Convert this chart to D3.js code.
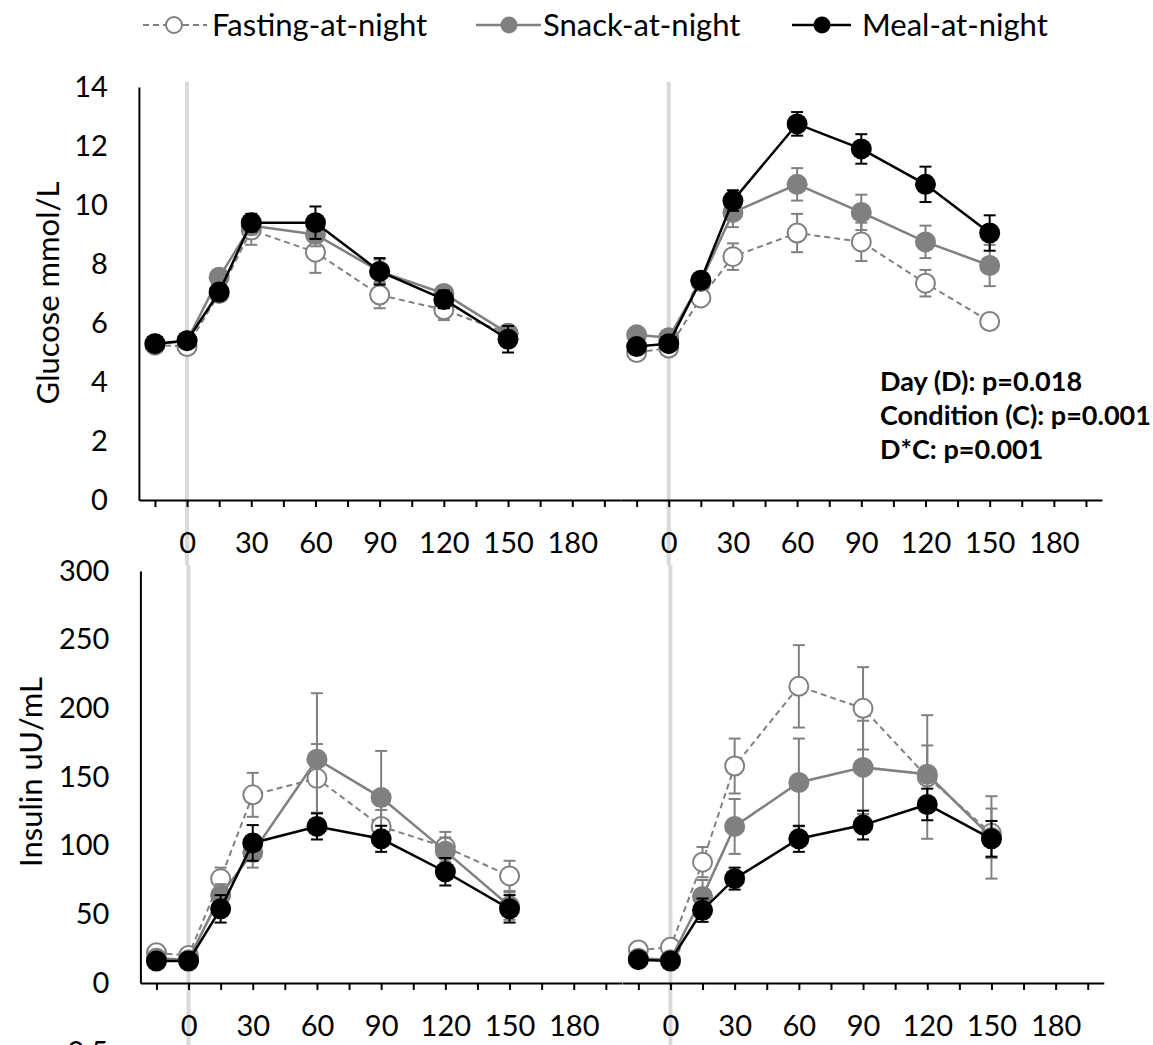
<!DOCTYPE html>
<html>
<head>
<meta charset="utf-8">
<script src="https://cdn.jsdelivr.net/npm/d3@7"></script>
<style>
  html, body { margin: 0; padding: 0; background: #fff; }
  svg { display: block; }
  text { font-family: Lato, "Open Sans", sans-serif; fill: #000; }
</style>
</head>
<body>
<svg id="chart" width="1153" height="1045"></svg>
<script>
// Sampling times (minutes relative to the test meal)
const times = [-15, 0, 15, 30, 60, 90, 120, 150];
const seriesNames = ["Fasting-at-night", "Snack-at-night", "Meal-at-night"];

// Glucose (mmol/L), day 1 and day 2: means and standard errors
const glucoseDay1Fasting = [5.25, 5.2, 7.0, 9.15, 8.4, 6.95, 6.45, 5.65];
const glucoseDay1FastingSE = [0.15, 0.15, 0.25, 0.5, 0.7, 0.45, 0.35, 0.2];
const glucoseDay1Snack = [5.3, 5.4, 7.55, 9.3, 9.0, 7.75, 7.0, 5.65];
const glucoseDay1SnackSE = [0.15, 0.15, 0.25, 0.3, 0.4, 0.4, 0.25, 0.25];
const glucoseDay1Meal = [5.3, 5.4, 7.05, 9.4, 9.4, 7.75, 6.8, 5.45];
const glucoseDay1MealSE = [0.1, 0.1, 0.2, 0.3, 0.55, 0.45, 0.3, 0.45];

const glucoseDay2Fasting = [5.0, 5.15, 6.85, 8.25, 9.05, 8.75, 7.35, 6.05];
const glucoseDay2FastingSE = [0.1, 0.1, 0.2, 0.45, 0.65, 0.65, 0.45, 0.15];
const glucoseDay2Snack = [5.6, 5.5, 7.4, 9.75, 10.7, 9.75, 8.75, 7.95];
const glucoseDay2SnackSE = [0.1, 0.1, 0.2, 0.5, 0.55, 0.6, 0.55, 0.7];
const glucoseDay2Meal = [5.2, 5.3, 7.45, 10.15, 12.75, 11.9, 10.7, 9.05];
const glucoseDay2MealSE = [0.1, 0.1, 0.2, 0.35, 0.4, 0.5, 0.6, 0.6];

// Insulin (uU/mL), day 1 and day 2: means and standard errors
const insulinDay1Fasting = [22, 20, 76, 137, 149, 114, 99, 78];
const insulinDay1FastingSE = [3, 3, 8, 16, 25, 12, 11, 11];
const insulinDay1Snack = [18, 17, 64, 95, 163, 135, 96, 56];
const insulinDay1SnackSE = [3, 3, 8, 11, 48, 34, 10, 10];
const insulinDay1Meal = [16, 16, 54, 102, 114, 105, 81, 54];
const insulinDay1MealSE = [2, 2, 10, 13, 9.5, 9.5, 10, 10];

const insulinDay2Fasting = [24, 26, 88, 158, 216, 200, 150, 109];
const insulinDay2FastingSE = [3, 3, 11, 20, 30, 30, 45, 18];
const insulinDay2Snack = [18, 17, 63, 114, 146, 157, 152, 106];
const insulinDay2SnackSE = [3, 3, 12, 20, 32, 34, 21, 30];
const insulinDay2Meal = [17, 16, 53, 76, 105, 115, 130, 105];
const insulinDay2MealSE = [2, 2, 8.5, 8, 9.5, 10.5, 11.5, 13];

// Axis ticks and labels
const xTicks = [-15, 0, 15, 30, 45, 60, 75, 90, 105, 120, 135, 150, 165, 180, 195];
const xTickLabels = [0, 30, 60, 90, 120, 150, 180];
const glucoseTicks = [0, 2, 4, 6, 8, 10, 12, 14];
const insulinTicks = [0, 50, 100, 150, 200, 250, 300];
const glucoseTitle = "Glucose mmol/L";
const insulinTitle = "Insulin uU/mL";
const statsLines = ["Day (D): p=0.018", "Condition (C): p=0.001", "D*C: p=0.001"];

// ---- styling ----
const styles = [
  { stroke: "#808080", fill: "#fff", dash: "6,4", lw: 2, ew: 2 },
  { stroke: "#808080", fill: "#808080", dash: null, lw: 2.5, ew: 2 },
  { stroke: "#000", fill: "#000", dash: null, lw: 2.5, ew: 2 }
];
const tickFont = 29;

const svg = d3.select("#chart");

const panels = [
  { means: [glucoseDay1Fasting, glucoseDay1Snack, glucoseDay1Meal],
    ses: [glucoseDay1FastingSE, glucoseDay1SnackSE, glucoseDay1MealSE],
    xr: [138.9, 620.4], yr: [500, 87], yDomain: [0, 14], yTicks: glucoseTicks,
    yAxis: true, title: glucoseTitle, titleX: 48, titleY: 293, band: [82, 565] },
  { means: [glucoseDay2Fasting, glucoseDay2Snack, glucoseDay2Meal],
    ses: [glucoseDay2FastingSE, glucoseDay2SnackSE, glucoseDay2MealSE],
    xr: [620.6, 1102], yr: [500, 87], yDomain: [0, 14], yTicks: glucoseTicks,
    yAxis: false, band: [82, 565] },
  { means: [insulinDay1Fasting, insulinDay1Snack, insulinDay1Meal],
    ses: [insulinDay1FastingSE, insulinDay1SnackSE, insulinDay1MealSE],
    xr: [140.4, 621.9], yr: [983, 571], yDomain: [0, 300], yTicks: insulinTicks,
    yAxis: true, title: insulinTitle, titleX: 31, titleY: 772, band: [565, 1045] },
  { means: [insulinDay2Fasting, insulinDay2Snack, insulinDay2Meal],
    ses: [insulinDay2FastingSE, insulinDay2SnackSE, insulinDay2MealSE],
    xr: [622.3, 1103.8], yr: [983, 571], yDomain: [0, 300], yTicks: insulinTicks,
    yAxis: false, band: [565, 1045] }
];

// time-zero reference bands first so that axes sit on top of them
panels.forEach(p => {
  p.x = d3.scaleLinear().domain([-22.5, 202.5]).range(p.xr);
  p.y = d3.scaleLinear().domain(p.yDomain).range(p.yr);
  svg.append("line")
    .attr("x1", p.x(0)).attr("x2", p.x(0))
    .attr("y1", p.band[0]).attr("y2", p.band[1])
    .attr("stroke", "#d9d9d9").attr("stroke-width", 4);
});

panels.forEach(p => {
  const g = svg.append("g");

  // x axis
  const xa = d3.axisBottom(p.x)
    .tickValues(xTicks)
    .tickSize(7).tickSizeOuter(0).tickPadding(25.5)
    .tickFormat(d => xTickLabels.includes(d) ? d : "");
  const gx = g.append("g").attr("transform", `translate(0,${p.yr[0]})`).call(xa);
  gx.select(".domain").attr("stroke", "#000").attr("stroke-width", 2);
  gx.selectAll(".tick line").attr("stroke", "#000").attr("stroke-width", 2);
  gx.selectAll(".tick text").attr("font-size", tickFont).attr("font-family", "Lato");

  // y axis (left panels only)
  if (p.yAxis) {
    const ya = d3.axisLeft(p.y).tickValues(p.yTicks).tickSize(0).tickPadding(31);
    const gy = g.append("g").attr("transform", `translate(${p.xr[0]},0)`).call(ya);
    gy.select(".domain").attr("stroke", "#000").attr("stroke-width", 2);
    gy.selectAll(".tick text").attr("font-size", tickFont).attr("font-family", "Lato");
    g.append("text")
      .attr("transform", `translate(${p.titleX},${p.titleY}) rotate(-90)`)
      .attr("text-anchor", "middle").attr("dy", "0.35em")
      .attr("font-size", 31)
      .text(p.title);
  }

  // series: error bars, line, markers
  p.means.forEach((vals, si) => {
    const st = styles[si];
    const se = p.ses[si];
    const pts = times.map((t, i) => ({ t, v: vals[i], e: se[i] }));
    const sg = g.append("g");

    const eb = sg.selectAll("g.err").data(pts).join("g")
      .attr("stroke", st.stroke).attr("stroke-width", st.ew);
    eb.append("line")
      .attr("x1", d => p.x(d.t)).attr("x2", d => p.x(d.t))
      .attr("y1", d => p.y(d.v - d.e)).attr("y2", d => p.y(d.v + d.e));
    eb.append("line")
      .attr("x1", d => p.x(d.t) - 6).attr("x2", d => p.x(d.t) + 6)
      .attr("y1", d => p.y(d.v + d.e)).attr("y2", d => p.y(d.v + d.e));
    eb.append("line")
      .attr("x1", d => p.x(d.t) - 6).attr("x2", d => p.x(d.t) + 6)
      .attr("y1", d => p.y(d.v - d.e)).attr("y2", d => p.y(d.v - d.e));

    sg.append("path")
      .datum(pts)
      .attr("fill", "none")
      .attr("stroke", st.stroke)
      .attr("stroke-width", st.lw)
      .attr("stroke-dasharray", st.dash)
      .attr("d", d3.line().x(d => p.x(d.t)).y(d => p.y(d.v)));

    sg.selectAll("circle").data(pts).join("circle")
      .attr("cx", d => p.x(d.t)).attr("cy", d => p.y(d.v))
      .attr("r", si === 0 ? 9.5 : 10.5)
      .attr("fill", st.fill)
      .attr("stroke", st.stroke)
      .attr("stroke-width", si === 0 ? 2 : 0);
  });
});

// statistics note on the glucose day-2 panel
svg.append("g").selectAll("text").data(statsLines).join("text")
  .attr("x", 880).attr("y", (d, i) => 382 + i * 34)
  .attr("dy", "0.35em")
  .attr("font-size", 27).attr("font-weight", "bold")
  .text(d => d);

// legend
const legendItems = [
  { x1: 143, x2: 207, cx: 174, tx: 212 },
  { x1: 476, x2: 541, cx: 509, tx: 543 },
  { x1: 792, x2: 851, cx: 822, tx: 862 }
];
const lg = svg.append("g");
seriesNames.forEach((name, i) => {
  const st = styles[i], it = legendItems[i];
  lg.append("line")
    .attr("x1", it.x1).attr("x2", it.x2).attr("y1", 25).attr("y2", 25)
    .attr("stroke", st.stroke).attr("stroke-width", st.lw)
    .attr("stroke-dasharray", st.dash);
  lg.append("circle")
    .attr("cx", it.cx).attr("cy", 25).attr("r", i === 0 ? 8 : 8.5)
    .attr("fill", st.fill).attr("stroke", st.stroke)
    .attr("stroke-width", i === 0 ? 2 : 0);
  lg.append("text")
    .attr("x", it.tx).attr("y", 25).attr("dy", "0.35em")
    .attr("font-size", 31)
    .text(name);
});

// tick label of the next panel, cut off by the bottom edge
svg.append("text")
  .attr("x", 108).attr("y", 1062)
  .attr("text-anchor", "end").attr("font-size", tickFont)
  .text("0.5");
</script>
</body>
</html>
